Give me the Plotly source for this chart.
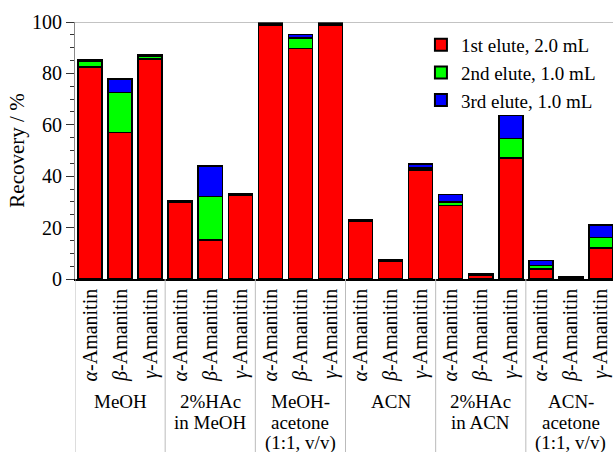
import plotly.graph_objects as go

groups = [["MeOH"], ["2%HAc", "in MeOH"], ["MeOH-", "acetone", "(1:1, v/v)"], ["ACN"],
          ["2%HAc", "in ACN"], ["ACN-", "acetone", "(1:1, v/v)"]]
analytes = ["<i>α</i>-Amanitin", "<i>β</i>-Amanitin", "<i>γ</i>-Amanitin"]

# recovery (%) per elution, order: groups x analytes
elute1 = [82.5, 57.1, 85.6,  29.9, 15.2, 32.6,  98.9, 89.6, 98.8,
          22.3, 6.9, 42.4,   28.6, 1.5, 47.0,   3.9, 0.7, 12.0]
elute2 = [2.3, 15.4, 0.9,    0.4, 16.9, 0.4,    0.6, 4.2, 0.5,
          0.5, 0.3, 0.8,     1.4, 0.2, 7.7,     1.3, 0.2, 4.2]
elute3 = [0.6, 5.3, 0.7,     0.3, 11.8, 0.3,    0.3, 1.4, 0.5,
          0.4, 0.2, 1.5,     2.8, 0.2, 9.0,     2.0, 0.1, 4.8]

series_names = ["1st elute, 2.0 mL", "2nd elute, 1.0 mL", "3rd elute, 1.0 mL"]
series_colors = ["#ff0000", "#00ff00", "#0000ff"]

xpos = list(range(len(groups) * len(analytes)))
ticktext = [a for g in groups for a in analytes]

FONT = "Liberation Serif, Times New Roman, serif"

fig = go.Figure()
for name, vals, col in zip(series_names, [elute1, elute2, elute3], series_colors):
    fig.add_trace(go.Bar(
        x=xpos, y=vals, name=name, width=0.8,
        marker=dict(color=col, line=dict(color="black", width=1.5)),
    ))

shapes = []
# top frame line
shapes.append(dict(type="line", xref="paper", yref="y", x0=0, x1=1, y0=100, y1=100,
                   line=dict(color="#888888", width=1.2)))
# group separators in label area
for i in range(len(groups)):
    xs = i * 3 - 0.5
    shapes.append(dict(type="line", xref="x", yref="paper", x0=xs, x1=xs, y0=0, y1=-0.7,
                       line=dict(color="#bbbbbb", width=1)))

annotations = []
for i, g in enumerate(groups):
    for j, line in enumerate(g):
        annotations.append(dict(x=i * 3 + 1, y=0, xref="x", yref="paper", text=line,
                                showarrow=False, yanchor="middle", yshift=-(122 + 21 * j),
                                align="center",
                                font=dict(family=FONT, size=19, color="black")))

fig.update_layout(
    width=613, height=452,
    margin=dict(l=75, r=0, t=22, b=173),
    barmode="stack",
    plot_bgcolor="white", paper_bgcolor="white",
    font=dict(family=FONT, size=19, color="black"),
    showlegend=True,
    legend=dict(x=0.643, y=0.985, xanchor="left", yanchor="top", traceorder="normal",
                bgcolor="rgba(0,0,0,0)", font=dict(family=FONT, size=19),
                tracegroupgap=0, itemsizing="constant"),
    shapes=shapes,
    annotations=annotations,
    xaxis=dict(
        tickmode="array", tickvals=xpos, ticktext=ticktext, tickangle=-90,
        range=[-0.5, 17.4], showline=True, linecolor="black", linewidth=1.5,
        ticks="", showgrid=False, zeroline=False, ticklabeloverflow="allow",
        tickfont=dict(family=FONT, size=20, color="black"),
    ),
    yaxis=dict(
        range=[0, 100], tickvals=[0, 20, 40, 60, 80, 100], showgrid=False, zeroline=False,
        showline=True, linecolor="#888888", linewidth=1.2,
        ticks="outside", ticklen=8, tickcolor="#333333", tickwidth=1.2,
        minor=dict(dtick=5, ticks="outside", ticklen=4, tickcolor="#333333", tickwidth=1.2),
        title=dict(text="Recovery / %", font=dict(family=FONT, size=21), standoff=1),
        tickfont=dict(family=FONT, size=20, color="black"),
    ),
)

fig.write_html("out.html")
